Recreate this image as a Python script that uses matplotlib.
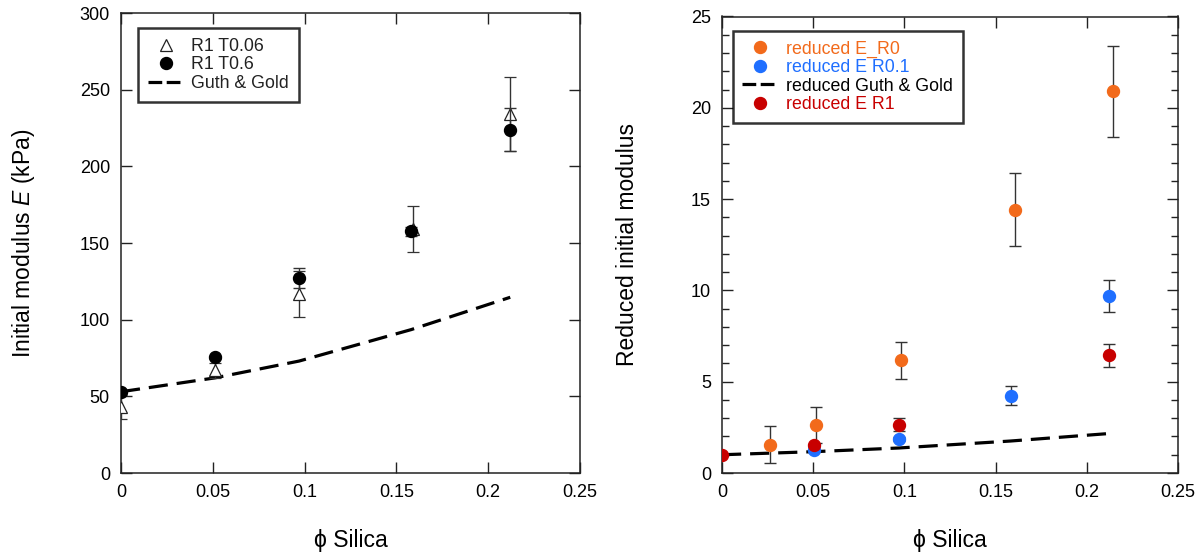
import matplotlib
matplotlib.use("Agg")
import matplotlib.pyplot as plt
from matplotlib.lines import Line2D
from matplotlib.ticker import MultipleLocator

plt.rcParams['font.family'] = ['Liberation Sans', 'DejaVu Sans']
plt.rcParams['mathtext.fontset'] = 'custom'
plt.rcParams['mathtext.rm'] = 'Liberation Sans'
plt.rcParams['mathtext.it'] = 'Liberation Sans:italic'

# ---- Initial modulus (kPa) vs silica fraction ----
phi_t006 = [0.0, 0.051, 0.097, 0.159, 0.212]
E_t006 = [43, 67, 117, 159, 234]
E_t006_err = [8, 5, 15, 15, 24]

phi_t06 = [0.0, 0.051, 0.097, 0.158, 0.212]
E_t06 = [53, 75.5, 127, 157.5, 224]
E_t06_err = [1, 1, 6.5, 3, 14]

phi_gg = [0.0, 0.051, 0.097, 0.158, 0.212]
E_gg = [53, 62, 73, 93.5, 114.6]

# ---- Reduced initial modulus vs silica fraction ----
phi_r0 = [0.0265, 0.0517, 0.0983, 0.1604, 0.2144]
red_r0 = [1.55, 2.64, 6.17, 14.43, 20.9]
red_r0_err = [1.0, 1.0, 1.0, 2.0, 2.5]

phi_r01 = [0.0507, 0.0972, 0.1583, 0.2119]
red_r01 = [1.24, 1.86, 4.23, 9.71]
red_r01_err = [0.1, 0.1, 0.53, 0.87]

phi_r1 = [0.0, 0.0507, 0.0972, 0.2119]
red_r1 = [1.0, 1.51, 2.64, 6.44]
red_r1_err = [0.0, 0.1, 0.35, 0.65]

phi_rgg = [0.0, 0.051, 0.097, 0.158, 0.212]
red_gg = [1.0, 1.17, 1.37, 1.75, 2.16]

xticks = [0, 0.05, 0.1, 0.15, 0.2, 0.25]
xtick_labels = ['0', '0.05', '0.1', '0.15', '0.2', '0.25']

C_ORANGE = '#f26a1b'
C_BLUE = '#1f6fff'
C_RED = '#c80000'
ERR_C = '#333333'

fig = plt.figure(figsize=(12.04, 5.55), dpi=100)
W, H = 1204, 555
ax1 = fig.add_axes([121 / W, (H - 473) / H, 459 / W, 460 / H])
ax2 = fig.add_axes([722 / W, (H - 473) / H, 456 / W, 456.5 / H])

dash = (0, (6.0, 2.8))
leg_dash = (0, (4.3, 1.4))
ebkw = dict(ecolor=ERR_C, elinewidth=1.0, capsize=4, capthick=1.0, linestyle='none')
LBL = 16.5
TCK = 13
LEG = 12.8

# left panel
tri_kw = dict(marker='^', ms=9, mfc='white', mec='#222222', mew=0.9)
dot_kw = dict(marker='o', ms=8.6, mfc='black', mec='black')
ax1.errorbar(phi_t006, E_t006, yerr=E_t006_err, zorder=3, **tri_kw, **ebkw)
ax1.errorbar(phi_t06, E_t06, yerr=E_t06_err, zorder=4, **dot_kw, **ebkw)
ax1.plot(phi_gg, E_gg, color='black', lw=2.3, linestyle=dash, zorder=2)
ax1.set_xlim(0, 0.25)
ax1.set_ylim(0, 300)
ax1.yaxis.set_major_locator(MultipleLocator(50))
ax1.set_xticks(xticks)
ax1.set_xticklabels(xtick_labels)
ax1.set_ylabel('Initial modulus $E$ (kPa)', fontsize=LBL)
ax1.set_xlabel('\u03d5 Silica', fontsize=LBL, labelpad=20)
ax1.yaxis.set_label_coords(-0.184, 0.5)

h1 = [Line2D([], [], linestyle='none', **tri_kw),
      Line2D([], [], linestyle='none', **dot_kw),
      Line2D([], [], color='black', lw=2.3, linestyle=leg_dash)]
l1 = ['R1 T0.06', 'R1 T0.6', 'Guth & Gold']
leg1 = ax1.legend(h1, l1, loc='upper left', bbox_to_anchor=(0.037, 0.967),
                  fontsize=LEG, frameon=True, fancybox=False, handlelength=2.0,
                  borderpad=0.55, labelspacing=0.08, handletextpad=0.45,
                  borderaxespad=0)
leg1.get_frame().set_edgecolor('black')
leg1.get_frame().set_linewidth(1.8)
for t in leg1.get_texts():
    t.set_color('#222222')

# right panel
def dot(c):
    return dict(marker='o', ms=8.6, mfc=c, mec=c)

ax2.errorbar(phi_r0, red_r0, yerr=red_r0_err, zorder=3, **dot(C_ORANGE), **ebkw)
ax2.errorbar(phi_r01, red_r01, yerr=red_r01_err, zorder=3, **dot(C_BLUE), **ebkw)
ax2.plot(phi_rgg, red_gg, color='black', lw=2.3, linestyle=dash, zorder=2)
ax2.errorbar(phi_r1, red_r1, yerr=red_r1_err, zorder=4, **dot(C_RED), **ebkw)
ax2.set_xlim(0, 0.25)
ax2.set_ylim(0, 25)
ax2.set_xticks(xticks)
ax2.set_xticklabels(xtick_labels)
ax2.yaxis.set_major_locator(MultipleLocator(5))
ax2.yaxis.set_minor_locator(MultipleLocator(1))
ax2.set_ylabel('Reduced initial modulus', fontsize=LBL)
ax2.set_xlabel('\u03d5 Silica', fontsize=LBL, labelpad=20)
ax2.yaxis.set_label_coords(-0.183, 0.5)

h2 = [Line2D([], [], linestyle='none', **dot(C_ORANGE)),
      Line2D([], [], linestyle='none', **dot(C_BLUE)),
      Line2D([], [], color='black', lw=2.3, linestyle=leg_dash),
      Line2D([], [], linestyle='none', **dot(C_RED))]
l2 = ['reduced E_R0', 'reduced E R0.1', 'reduced Guth & Gold', 'reduced E R1']
leg2 = ax2.legend(h2, l2, loc='upper left', bbox_to_anchor=(0.0235, 0.9687),
                  fontsize=LEG, frameon=True, fancybox=False, handlelength=2.0,
                  borderpad=0.55, labelspacing=0.08, handletextpad=0.45,
                  borderaxespad=0)
leg2.get_frame().set_edgecolor('black')
leg2.get_frame().set_linewidth(1.8)
for txt, col in zip(leg2.get_texts(), [C_ORANGE, C_BLUE, 'black', C_RED]):
    txt.set_color(col)

for ax in (ax1, ax2):
    ax.tick_params(which='major', direction='in', length=8, width=1,
                   top=True, right=True, labelsize=TCK, pad=8, colors='#222222')
    ax.tick_params(which='minor', direction='in', length=5, width=1,
                   left=True, right=True, colors='#222222')
    for s in ax.spines.values():
        s.set_linewidth(1.1)
        s.set_color('#222222')
    ax.tick_params(axis='both', labelcolor='black')

fig.savefig('out.png', dpi=100)
